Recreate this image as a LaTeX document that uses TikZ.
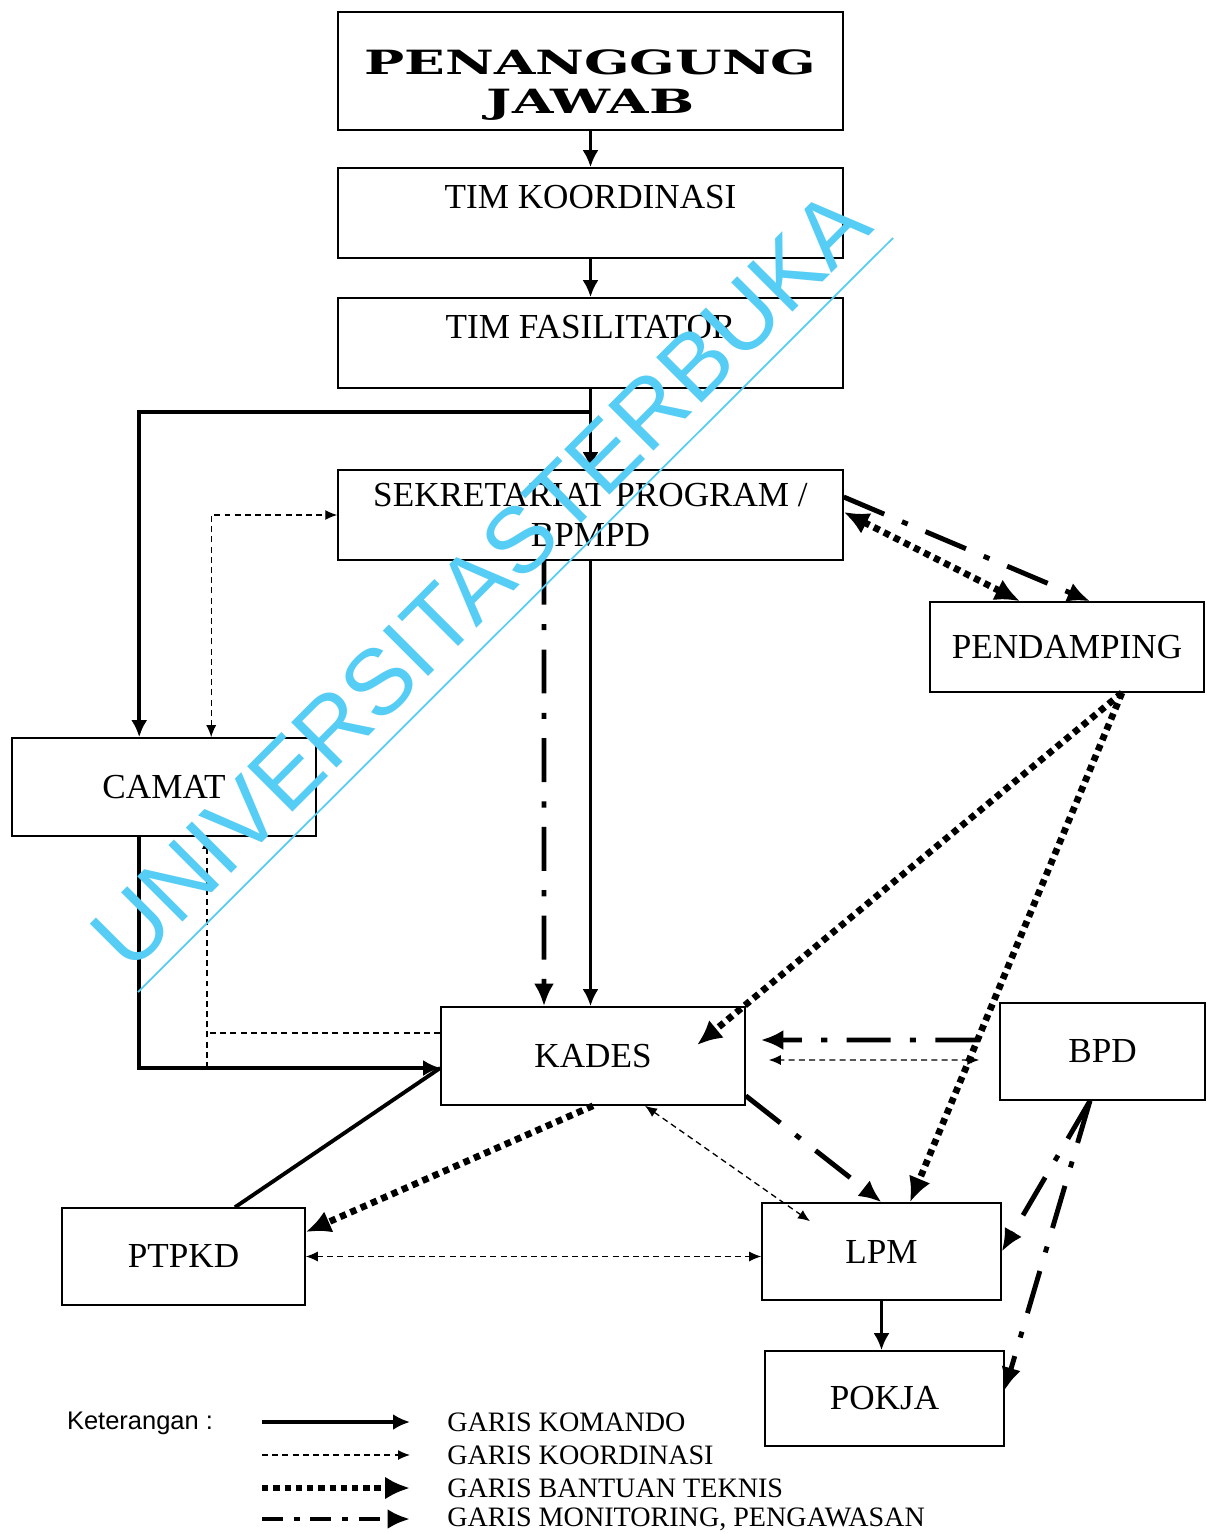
\documentclass[tikz,border=0pt]{standalone}
\usepackage{fontspec}
\usepackage{graphicx}
\setmainfont{Liberation Serif}
\newfontfamily\legsans{Liberation Sans}
\newfontfamily\titleserif{DejaVu Serif}
\usetikzlibrary{arrows.meta}
\definecolor{wmcyan}{RGB}{85,205,245}
\newcommand{\boxfont}{\fontsize{20}{22.7}\selectfont}
\newcommand{\titleline}[1]{\raisebox{-8pt}[\height][\depth]{\scalebox{1.6}[1]{#1}}}

\begin{document}
\begin{tikzpicture}[x=0.02cm, y=-0.02cm, every node/.style={font=\boxfont},
	box/.style={draw, line width=0.9pt, minimum height=1.8cm, inner sep=2pt},
	legend/.style={anchor=west, inner sep=0pt, font=\fontsize{16}{18}\selectfont},
	cmd/.style={line width=2.2pt, >={Latex[length=3.4mm,width=3.2mm]}, ->},
	koor/.style={line width=0.75pt, dash pattern=on 3.4pt off 2.4pt, >={Latex[length=2.4mm,width=2mm]}, ->},
	tek/.style={line width=3.8pt, dash pattern=on 3.6pt off 2.8pt, >={Latex[length=5mm,width=4.6mm]}, ->},
	mon/.style={line width=2.8pt, dash pattern=on 25pt off 11pt on 3.5pt off 11pt, >={Latex[length=4.5mm,width=4mm]}, ->}]
	\useasboundingbox (0,0) rectangle (1211,1534);
	\fill[white] (0,0) rectangle (1211,1534);

	% boxes
	\node[box, minimum width=10.1cm, minimum height=2.36cm, align=center, font={\titleserif\bfseries\fontsize{19}{22.7}\selectfont}] (pj) at (590.5,71) {\titleline{PENANGGUNG}\\\titleline{JAWAB}};
	\node[box, minimum width=10.1cm, text depth=0.64cm] (tk) at (590.5,213) {TIM KOORDINASI};
	\node[box, minimum width=10.1cm, text depth=0.64cm] (tf) at (590.5,343) {TIM FASILITATOR};
	\node[box, minimum width=10.1cm, align=center] (sek) at (590.5,515) {SEKRETARIAT PROGRAM /\\BPMPD};
	\node[box, minimum width=5.48cm] (pend) at (1067,647) {PENDAMPING};
	\node[box, minimum width=6.08cm, minimum height=1.96cm] (camat) at (164,787) {CAMAT};
	\node[box, minimum width=6.08cm, minimum height=1.96cm] (kades) at (593,1056) {KADES};
	\node[box, minimum width=4.1cm, minimum height=1.94cm] (bpd) at (1102.5,1051.5) {BPD};
	\node[box, minimum width=4.86cm, minimum height=1.94cm] (ptpkd) at (183.5,1256.5) {PTPKD};
	\node[box, minimum width=4.78cm, minimum height=1.94cm] (lpm) at (881.5,1251.5) {LPM};
	\node[box, minimum width=4.78cm, minimum height=1.9cm] (pokja) at (884.5,1398.5) {POKJA};

	% garis komando
	\draw[cmd] (pj) -- (tk);
	\draw[cmd] (tk) -- (tf);
	\draw[cmd] (tf) -- (sek);
	\coordinate (split) at (590.5,412);
	\draw[cmd] (split) -| ([xshift=2.56cm]camat.north west);
	\draw[cmd] (sek.south) -- (sek.south |- kades.north);
	\draw[cmd] ([xshift=2.56cm]camat.south west) |- ([yshift=-0.24cm]kades.west);
	\draw[cmd, -] ([xshift=1.03cm]ptpkd.north) -- ([yshift=-0.24cm]kades.west);
	\draw[cmd] (lpm.south) -- (lpm.south |- pokja.north);

	% garis koordinasi
	\draw[koor, <->] ([xshift=4cm]camat.north west) |- (sek.west);
	\coordinate (kc) at (207,1068);
	\coordinate (kw) at ([yshift=0.46cm]kades.west);
	\draw[koor] (kc) -- (kc |- camat.south);
	\draw[koor, -] (kw) -- (kw -| kc);
	\draw[koor, <->] (ptpkd.east) -- (ptpkd.east -| lpm.west);
	\draw[koor, <->] ([xshift=1.04cm]kades.south) -- ([xshift=-1.43cm, yshift=-0.38cm]lpm.north);
	\draw[koor, <->] ([xshift=-0.4cm, yshift=-0.17cm]bpd.west) -- ([xshift=0.46cm, yshift=-0.08cm]kades.east);

	% garis bantuan teknis
	\draw[tek, <->] ([yshift=0.06cm]sek.east) -- ([xshift=-0.94cm]pend.north);
	\draw[tek] ([xshift=1.1cm]pend.south) -- ([xshift=2.08cm, yshift=0.22cm]kades.center);
	\draw[tek] ([xshift=1.1cm]pend.south) -- ([xshift=0.57cm]lpm.north);
	\draw[tek] (kades.south) -- ([yshift=0.49cm]ptpkd.east);

	% garis monitoring
	\draw[mon] ([xshift=-0.93cm]sek.south) -- ([xshift=-0.98cm]kades.north);
	\draw[mon] ([yshift=0.36cm]sek.east) -- ([xshift=0.46cm]pend.north);
	\draw[mon] ([yshift=0.2cm]kades.south east) -- (lpm.north);
	\draw[mon] ([xshift=-0.4cm, yshift=0.23cm]bpd.west) -- ([xshift=0.3cm, yshift=0.32cm]kades.east);
	\draw[mon] ([xshift=-0.25cm]bpd.south) -- (lpm.east);
	\draw[mon] ([xshift=-0.25cm]bpd.south) -- ([yshift=0.17cm]pokja.east);

	% keterangan
	\node[font={\legsans\fontsize{14.5}{17}\selectfont}] (ket) at (140,1423) {Keterangan :};
	\node[legend] (lg1) at (447,1422) {GARIS KOMANDO};
	\node[legend] (lg2) at (447,1455) {GARIS KOORDINASI};
	\node[legend] (lg3) at (447,1488) {GARIS BANTUAN TEKNIS};
	\node[legend] (lg4) at (447,1519) {GARIS MONITORING, PENGAWASAN};
	\draw[cmd] ([xshift=-3.7cm]lg1.west) -- ([xshift=-0.74cm]lg1.west);
	\draw[koor] ([xshift=-3.7cm]lg2.west) -- ([xshift=-0.74cm]lg2.west);
	\draw[tek] ([xshift=-3.7cm]lg3.west) -- ([xshift=-0.74cm]lg3.west);
	\draw[mon, dash pattern=on 12pt off 6pt on 3.5pt off 6pt] ([xshift=-3.7cm]lg4.west) -- ([xshift=-0.74cm]lg4.west);

	% watermark
	\node[font={\legsans\fontsize{53}{53}\selectfont}, text=wmcyan, rotate=45, anchor=base west, inner sep=0pt] (wm) at (130,975) {UNIVERSITASTERBUKA};
	\draw[wmcyan, line width=1pt] (138,992) -- (893,238);
\end{tikzpicture}
\end{document}
